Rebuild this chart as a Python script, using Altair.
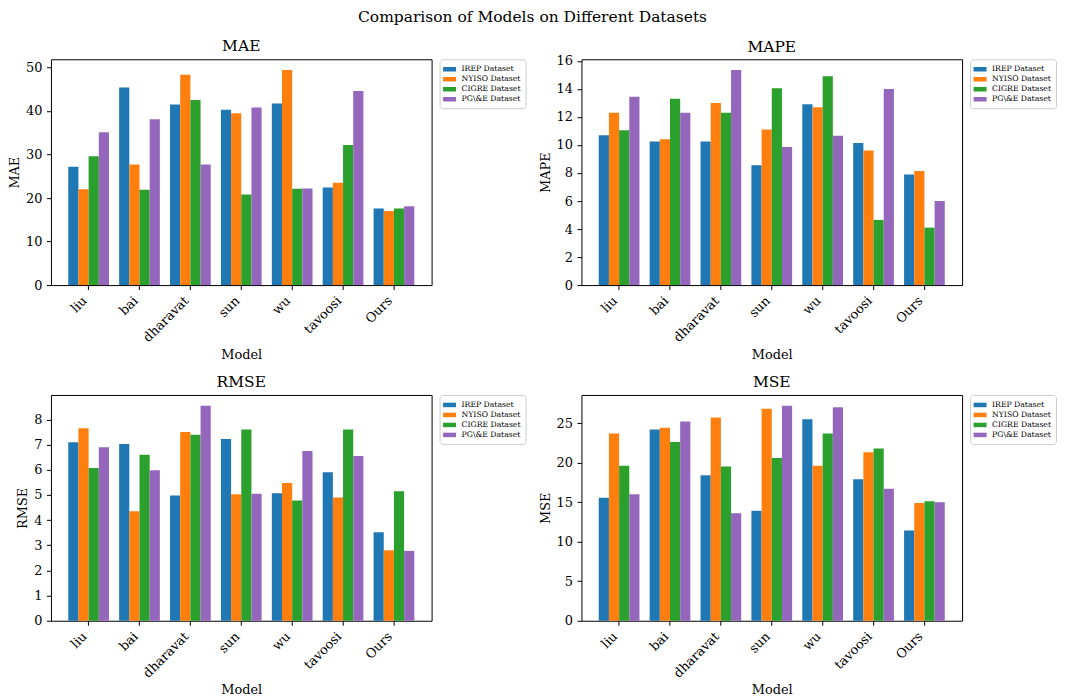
import altair as alt
import pandas as pd

models = ["liu", "bai", "dharavat", "sun", "wu", "tavoosi", "Ours"]
datasets = ["IREP Dataset", "NYISO Dataset", "CIGRE Dataset", "PG\\&E Dataset"]
colors = ["#1f77b4", "#ff7f0e", "#2ca02c", "#9467bd"]

# MAE
mae_irep = [27.2, 45.4, 41.5, 40.3, 41.7, 22.4, 17.6]
mae_nyiso = [22.0, 27.7, 48.3, 39.5, 49.4, 23.5, 17.0]
mae_cigre = [29.6, 21.9, 42.5, 20.8, 22.1, 32.2, 17.6]
mae_pge = [35.1, 38.1, 27.7, 40.8, 22.2, 44.6, 18.1]

# MAPE
mape_irep = [10.7, 10.25, 10.25, 8.55, 12.9, 10.15, 7.9]
mape_nyiso = [12.3, 10.4, 13.0, 11.1, 12.7, 9.6, 8.15]
mape_cigre = [11.05, 13.3, 12.3, 14.05, 14.9, 4.65, 4.1]
mape_pge = [13.45, 12.3, 15.35, 9.85, 10.65, 14.0, 6.0]

# RMSE
rmse_irep = [7.1, 7.03, 4.98, 7.23, 5.07, 5.9, 3.52]
rmse_nyiso = [7.65, 4.35, 7.5, 5.03, 5.48, 4.9, 2.8]
rmse_cigre = [6.07, 6.6, 7.4, 7.6, 4.78, 7.6, 5.15]
rmse_pge = [6.9, 5.98, 8.55, 5.05, 6.75, 6.55, 2.78]

# MSE
mse_irep = [15.55, 24.2, 18.4, 13.9, 25.5, 17.9, 11.4]
mse_nyiso = [23.7, 24.4, 25.7, 26.8, 19.6, 21.3, 14.9]
mse_cigre = [19.6, 22.6, 19.5, 20.6, 23.7, 21.8, 15.1]
mse_pge = [16.0, 25.2, 13.6, 27.2, 27.0, 16.7, 15.0]

mae_ticks = [0, 10, 20, 30, 40, 50]
mape_ticks = [0, 2, 4, 6, 8, 10, 12, 14, 16]
rmse_ticks = [0, 1, 2, 3, 4, 5, 6, 7, 8]
mse_ticks = [0, 5, 10, 15, 20, 25]

FONT = "DejaVu Serif"
W, H = 381, 226


def panel(metric, series, ticks, title_dy=0):
    rec = []
    for ds, vals in zip(datasets, series):
        for m, v in zip(models, vals):
            rec.append({"Model": m, "Dataset": ds, "Value": v})
    df = pd.DataFrame(rec)
    ymax = max(max(s) for s in series) * 1.05
    return (
        alt.Chart(df, title=alt.TitleParams(metric, dy=title_dy))
        .mark_bar()
        .encode(
            x=alt.X(
                "Model:N",
                sort=models,
                scale=alt.Scale(paddingInner=0.2, paddingOuter=0.34),
                axis=alt.Axis(
                    title="Model",
                    labelAngle=315,
                    labelAlign="right",
                    labelBaseline="top",
                    labelOffset=-8,
                ),
            ),
            xOffset=alt.XOffset(
                "Dataset:N", sort=datasets, scale=alt.Scale(paddingInner=0, paddingOuter=0)
            ),
            y=alt.Y(
                "Value:Q",
                scale=alt.Scale(domain=[0, ymax], nice=False, zero=True),
                axis=alt.Axis(title=metric, values=ticks),
            ),
            color=alt.Color(
                "Dataset:N",
                sort=datasets,
                scale=alt.Scale(domain=datasets, range=colors),
                legend=alt.Legend(title=None),
            ),
        )
        .properties(width=W, height=H)
    )


p1 = panel("MAE", [mae_irep, mae_nyiso, mae_cigre, mae_pge], mae_ticks)
p2 = panel("MAPE", [mape_irep, mape_nyiso, mape_cigre, mape_pge], mape_ticks, title_dy=5)
p3 = panel("RMSE", [rmse_irep, rmse_nyiso, rmse_cigre, rmse_pge], rmse_ticks)
p4 = panel("MSE", [mse_irep, mse_nyiso, mse_cigre, mse_pge], mse_ticks)

row1 = alt.hconcat(p1, p2, spacing=12).resolve_scale(color="independent", y="independent").resolve_legend(color="independent")
row2 = alt.hconcat(p3, p4, spacing=12).resolve_scale(color="independent", y="independent").resolve_legend(color="independent")

chart = (
    alt.vconcat(row1, row2, spacing=12)
    .resolve_scale(color="independent", y="independent", x="independent")
    .resolve_legend(color="independent")
    .properties(
        title=alt.TitleParams(
            "Comparison of Models on Different Datasets",
            anchor="middle",
            fontSize=15.5,
            font=FONT,
            fontWeight="normal",
            offset=13,
            color="black",
        ),
        padding={"left": 0, "right": 0, "top": 2, "bottom": 0},
    )
    .configure(font=FONT)
    .configure_view(stroke="black", strokeWidth=1)
    .configure_title(font=FONT, fontSize=15.5, fontWeight="normal", color="black", offset=4)
    .configure_axis(
        domain=False,
        grid=False,
        tickColor="black",
        tickSize=4.5,
        tickWidth=1,
        labelFont=FONT,
        labelFontSize=12.9,
        labelColor="black",
        labelPadding=4.5,
        titleFont=FONT,
        titleFontSize=12.9,
        titleFontWeight="normal",
        titleColor="black",
        titlePadding=4,
    )
    .configure_legend(
        orient="right",
        offset=8,
        labelFont=FONT,
        labelFontSize=7.7,
        labelColor="black",
        labelOffset=7,
        symbolType="M-1.3,-0.45H1.3V0.45H-1.3Z",
        symbolSize=100,
        symbolStrokeWidth=0,
        rowPadding=1,
        padding=5,
        strokeColor="#cccccc",
        fillColor="white",
        cornerRadius=3,
    )
)

chart.save("out.html", embed_options={"renderer": "svg", "actions": False})
